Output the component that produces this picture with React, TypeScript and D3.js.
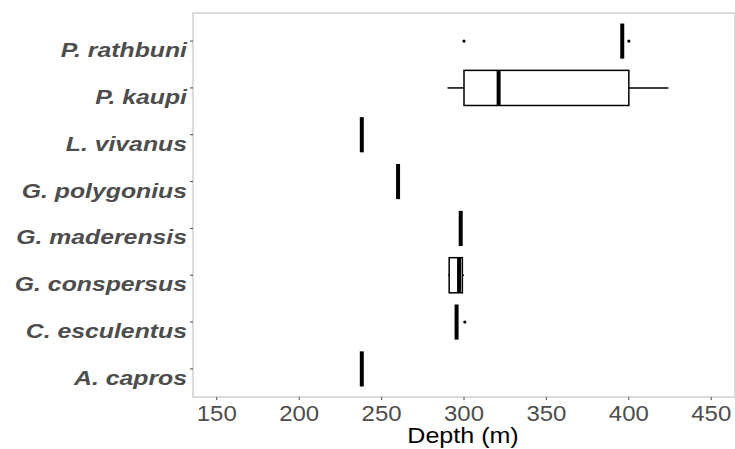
import React from 'react'
import * as d3 from 'd3'

// species from bottom to top
const species = ['A. capros', 'C. esculentus', 'G. conspersus', 'G. maderensis', 'G. polygonius', 'L. vivanus', 'P. kaupi', 'P. rathbuni']
const whiskerLow = [238, 295.5, 290.5, 297, 260, 238, 290, 396]
const q1 = [238, 295.5, 291, 298, 260, 238, 300, 396]
const median = [238, 295.5, 297, 298, 260, 238, 321, 396]
const q3 = [238, 295.5, 299, 298, 260, 238, 400, 396]
const whiskerHigh = [238, 295.5, 300, 298.5, 260, 238, 424, 396]
const outliers = [[], [300.5], [], [], [], [], [], [300, 400]]
const xTicks = [150, 200, 250, 300, 350, 400, 450]

const W = 735
const H = 449
const panel = { left: 193, right: 735, top: 13, bottom: 397 }
const font = 'Liberation Sans, Arial, sans-serif'

export default function App() {
  const x = d3.scaleLinear().domain([135.6, 464.4]).range([panel.left, panel.right])
  // ggplot-style discrete expansion: 0.6 units each side
  const step = (panel.bottom - panel.top) / (species.length - 1 + 1.2)
  const cy = (s: string) => panel.top + 0.6 * step + (species.length - 1 - species.indexOf(s)) * step
  const half = step * 0.75 / 2

  return (
    <svg width={W} height={H} style={{ position: 'absolute', left: 0, top: 0, background: '#fff' }}>
      <rect x={panel.left} y={panel.top} width={panel.right - panel.left} height={panel.bottom - panel.top}
        fill="#fff" stroke="#c4c4c4" strokeWidth={1.2} />

      {/* y axis */}
      {species.map(s => (
        <g key={s}>
          <line x1={panel.left - 3} x2={panel.left} y1={cy(s)} y2={cy(s)} stroke="#4d4d4d" strokeWidth={1} />
          <text x={187} y={cy(s) + 16} textAnchor="end"
            fontFamily={font} fontWeight="bold" fontStyle="italic"
            fontSize={20} fill="#4d4d4d" transform="translate(187,0) scale(1.24,1) translate(-187,0)">{s}</text>
        </g>
      ))}

      {/* x axis */}
      {xTicks.map(t => (
        <g key={t}>
          <line x1={x(t)} x2={x(t)} y1={panel.bottom} y2={panel.bottom + 3} stroke="#4d4d4d" strokeWidth={1} />
          <text x={x(t)} y={421} textAnchor="middle" fontFamily={font}
            fontSize={22} fill="#4d4d4d" transform={`translate(${x(t)},0) scale(1.09,1) translate(${-x(t)},0)`}>{t}</text>
        </g>
      ))}
      <text x={463} y={443} textAnchor="middle" fontFamily={font}
        fontSize={22} fill="#000" transform="translate(463,0) scale(1.14,1) translate(-463,0)">Depth (m)</text>

      {/* boxes */}
      {species.map((s, i) => {
        const c = cy(s)
        return (
          <g key={s} stroke="#000" fill="none">
            <line x1={x(whiskerLow[i])} x2={x(q1[i])} y1={c} y2={c} strokeWidth={1.5} />
            <line x1={x(q3[i])} x2={x(whiskerHigh[i])} y1={c} y2={c} strokeWidth={1.5} />
            <rect x={x(q1[i])} y={c - half} width={x(q3[i]) - x(q1[i])} height={half * 2}
              fill="#fff" strokeWidth={1.5} />
            <line x1={x(median[i])} x2={x(median[i])} y1={c - half} y2={c + half} strokeWidth={4} />
            {outliers[i].map((o, j) => (
              <circle key={j} cx={x(o)} cy={c} r={1.6} fill="#000" stroke="none" />
            ))}
          </g>
        )
      })}
    </svg>
  )
}
